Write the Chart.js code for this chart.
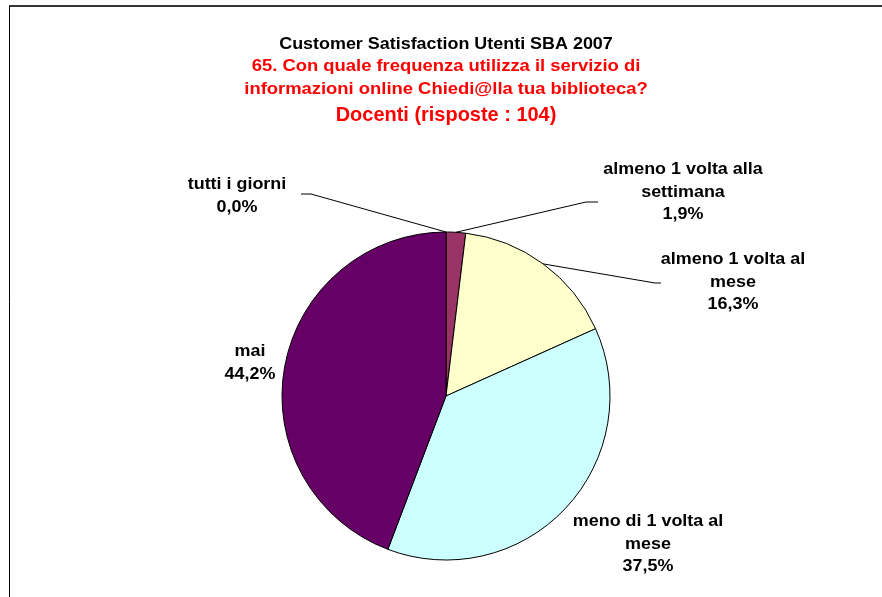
<!DOCTYPE html>
<html>
<head>
<meta charset="utf-8">
<script src="https://cdn.jsdelivr.net/npm/chart.js@4"></script>
<style>
  html, body { margin: 0; padding: 0; background: #fff; }
  #wrap { width: 882px; height: 597px; position: relative; }
</style>
</head>
<body>
<div id="wrap"><canvas id="pieChart" width="882" height="597"></canvas></div>
<script>
// dati (risposte su 104)
const categories = [
    "tutti i giorni",
    "almeno 1 volta alla settimana",
    "almeno 1 volta al mese",
    "meno di 1 volta al mese",
    "mai",
];
const responses = [0, 2, 17, 39, 46];
const sliceColors = ["#ffffff", "#993366", "#ffffcc", "#ccffff", "#660066"];

const titleLines = [
    { text: "Customer Satisfaction Utenti SBA 2007", color: "#000", size: 16, sx: 1.12 },
    { text: "65. Con quale frequenza utilizza il servizio di", color: "#ff0000", size: 16, sx: 1.15 },
    { text: "informazioni online Chiedi@lla tua biblioteca?", color: "#ff0000", size: 16, sx: 1.15 },
    { text: "Docenti (risposte : 104)", color: "#ff0000", size: 21, sx: 0.95 },
];

// posizione delle etichette (testo spezzato su più righe) e gomito della linea guida
const labelLayout = [
    { lines: ["tutti i giorni"], x: 237, y: 185, elbow: [311, 194], end: [301, 194] },
    { lines: ["almeno 1 volta alla", "settimana"], x: 683, y: 170, elbow: [586, 202], end: [598, 202] },
    { lines: ["almeno 1 volta al", "mese"], x: 733, y: 260, elbow: [655, 283], end: [661, 283] },
    { lines: ["meno di 1 volta al", "mese"], x: 648, y: 522 },
    { lines: ["mai"], x: 250, y: 352 },
];

const total = responses.reduce((a, b) => a + b, 0);
const pct = (v) => ((v / total) * 100).toFixed(1).replace(".", ",") + "%";

function stretchText(ctx, s, x, y, sx) {
    ctx.save();
    ctx.translate(x, y);
    ctx.scale(sx, 1);
    ctx.fillText(s, 0, 0);
    ctx.restore();
}

const textPlugin = {
    id: "excelText",
    beforeDraw(chart) {
        const ctx = chart.ctx;
        ctx.save();
        // cornice
        ctx.strokeStyle = "#333";
        ctx.lineWidth = 2;
        ctx.beginPath();
        ctx.moveTo(9, 6);
        ctx.lineTo(882, 6);
        ctx.stroke();
        ctx.lineWidth = 1;
        ctx.strokeStyle = "#000";
        ctx.beginPath();
        ctx.moveTo(9.5, 6);
        ctx.lineTo(9.5, 597);
        ctx.stroke();

        // titolo
        ctx.textAlign = "center";
        ctx.textBaseline = "middle";
        const ys = [45, 67, 90, 115];
        titleLines.forEach((t, i) => {
            ctx.font = "bold " + t.size + "px 'Liberation Sans', Arial, sans-serif";
            ctx.fillStyle = t.color;
            stretchText(ctx, t.text, 446, ys[i], t.sx);
        });
        ctx.restore();
    },
    afterDatasetsDraw(chart) {
        const ctx = chart.ctx;
        const meta = chart.getDatasetMeta(0);
        ctx.save();
        ctx.font = "bold 16px 'Liberation Sans', Arial, sans-serif";
        ctx.textAlign = "center";
        ctx.textBaseline = "middle";
        ctx.fillStyle = "#000";
        labelLayout.forEach((lab, i) => {
            const arc = meta.data[i];
            if (lab.elbow) {
                const mid = (arc.startAngle + arc.endAngle) / 2;
                const px = arc.x + Math.cos(mid) * arc.outerRadius;
                const py = arc.y + Math.sin(mid) * arc.outerRadius;
                ctx.strokeStyle = "#000";
                ctx.lineWidth = 1;
                ctx.beginPath();
                ctx.moveTo(px, py);
                ctx.lineTo(lab.elbow[0], lab.elbow[1]);
                ctx.lineTo(lab.end[0], lab.end[1]);
                ctx.stroke();
            }
            const lines = lab.lines.concat([pct(responses[i])]);
            lines.forEach((s, k) => stretchText(ctx, s, lab.x, lab.y + k * 22.5, 1.12));
        });
        ctx.restore();
    },
};

new Chart(document.getElementById("pieChart"), {
    type: "pie",
    data: {
        labels: categories,
        datasets: [
            {
                data: responses,
                backgroundColor: sliceColors,
                borderColor: "#000",
                borderWidth: 1,
                radius: 164,
            },
        ],
    },
    options: {
        responsive: false,
        animation: false,
        layout: { padding: { top: 232, bottom: 37, left: 10, right: 0 } },
        plugins: {
            legend: { display: false },
            title: { display: false },
            tooltip: { enabled: false },
        },
    },
    plugins: [textPlugin],
});
</script>
</body>
</html>
